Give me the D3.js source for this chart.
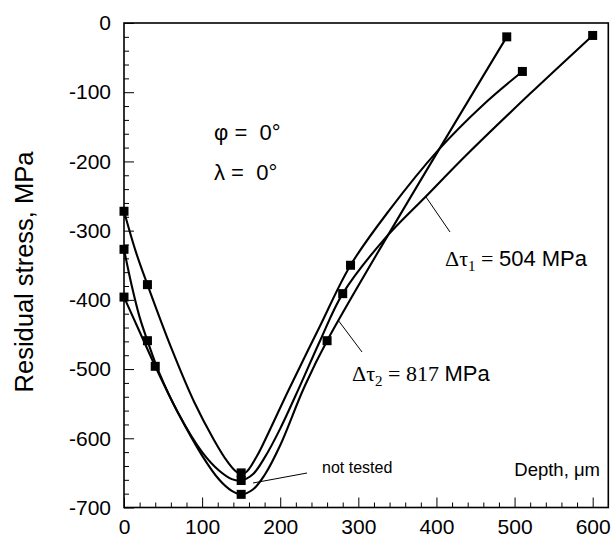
<!DOCTYPE html>
<html><head><meta charset="utf-8">
<script src="https://cdn.jsdelivr.net/npm/d3@7"></script>
<style>body{margin:0;background:#fff}svg{display:block}</style>
</head><body>
<script>
// ---- data ----
const xTicks = [0, 100, 200, 300, 400, 500, 600];
const yTicks = [0, -100, -200, -300, -400, -500, -600, -700];

// measured points (square markers)
const markDepthA = [0, 30, 150, 290, 510];
const markStressA = [-272, -378, -650, -350, -70];
const markDepthB = [0, 30, 150, 280, 600];
const markStressB = [-327, -459, -661, -391, -18];
const markDepthC = [0, 40, 150, 260, 490];
const markStressC = [-396, -496, -681, -459, -20];

// fitted curves
const fitDepthA = [0, 15, 30, 60, 90, 115, 132, 145, 155, 170, 185, 210, 250, 290, 340, 402, 460, 510];
const fitStressA = [-272, -330, -378, -468, -548, -602, -633, -649, -650, -626, -592, -532, -440, -350, -270, -184, -118, -70];
const fitDepthB = [0, 10, 20, 30, 45, 70, 100, 122, 138, 150, 165, 180, 200, 225, 251, 280, 332, 387, 439, 520, 600];
const fitStressB = [-327, -380, -425, -459, -505, -565, -620, -647, -659, -661, -652, -628, -586, -525, -459, -391, -314, -250, -190, -102, -18];
const fitDepthC = [0, 20, 40, 70, 100, 122, 138, 150, 165, 180, 200, 230, 260, 490];
const fitStressC = [-396, -446, -496, -565, -625, -660, -676, -681, -674, -653, -610, -528, -459, -20];

const marks = [[markDepthA, markStressA], [markDepthB, markStressB], [markDepthC, markStressC]];
const fits = [[fitDepthA, fitStressA], [fitDepthB, fitStressB], [fitDepthC, fitStressC]];

const W = 611, H = 540;
const L = 124, R = 608.3, T = 23, B = 507.5;
const svg = d3.select("body").append("svg").attr("width", W).attr("height", H);
const x = d3.scaleLinear().domain([0, 620]).range([L, R]);
const y = d3.scaleLinear().domain([-700, 0]).range([B, T]);
const sans = "Arial, 'Liberation Sans', Helvetica, sans-serif";
const serif = "'Times New Roman', 'Liberation Serif', serif";

// frame
svg.append("rect").attr("x", L).attr("y", T).attr("width", R - L).attr("height", B - T)
  .attr("fill", "none").attr("stroke", "#000").attr("stroke-width", 1.6);

// x axis ticks (inward)
const gx = svg.append("g").attr("transform", `translate(0,${B})`)
  .call(d3.axisBottom(x).tickValues(d3.range(0, 620, 20)).tickSize(-5).tickFormat(""));
gx.select(".domain").remove();
gx.selectAll(".tick line").attr("stroke", "#000").attr("stroke-width", 1)
  .filter(d => d % 100 === 0).attr("y2", -10);
const gxl = svg.append("g").attr("transform", `translate(0,${B})`)
  .call(d3.axisBottom(x).tickValues(xTicks).tickSize(0).tickPadding(12).tickFormat(d => String(d)));
gxl.select(".domain").remove();
gxl.selectAll("text").attr("font-family", sans).attr("font-size", 21).attr("fill", "#000");

// y axis ticks (inward)
const gy = svg.append("g").attr("transform", `translate(${L},0)`)
  .call(d3.axisLeft(y).tickValues(d3.range(-700, 1, 20)).tickSize(-5).tickFormat(""));
gy.select(".domain").remove();
gy.selectAll(".tick line").attr("stroke", "#000").attr("stroke-width", 1)
  .filter(d => d % 100 === 0).attr("x2", 10);
const gyl = svg.append("g").attr("transform", `translate(${L},0)`)
  .call(d3.axisLeft(y).tickValues(yTicks).tickSize(0).tickPadding(13).tickFormat(d => String(d)));
gyl.select(".domain").remove();
gyl.selectAll("text").attr("font-family", sans).attr("font-size", 21).attr("fill", "#000");

// y title
svg.append("text").attr("transform", "translate(33,272) rotate(-90)")
  .attr("text-anchor", "middle").attr("font-family", sans).attr("font-size", 25.5)
  .text("Residual stress, MPa");

// curves
const line = d3.line().x(d => x(d[0])).y(d => y(d[1])).curve(d3.curveCatmullRom.alpha(0.5));
fits.forEach(([dx, sy]) => {
  const pts = dx.map((v, i) => [v, sy[i]]);
  svg.append("path").attr("d", line(pts)).attr("fill", "none")
    .attr("stroke", "#000").attr("stroke-width", 2.1);
});
marks.forEach(([dx, sy]) => {
  const pts = dx.map((v, i) => [v, sy[i]]);
  svg.selectAll(null).data(pts).enter().append("rect")
    .attr("x", d => x(d[0]) - 4.5).attr("y", d => y(d[1]) - 4.5)
    .attr("width", 9).attr("height", 9).attr("fill", "#000");
});

// annotations
const ann = svg.append("g").attr("fill", "#000");
ann.append("text").attr("x", 214).attr("y", 140).attr("font-family", sans).attr("font-size", 22)
  .attr("xml:space", "preserve").text("φ =  0°");
ann.append("text").attr("x", 214).attr("y", 180).attr("font-family", sans).attr("font-size", 22)
  .attr("xml:space", "preserve").text("λ =  0°");
ann.append("text").attr("x", 600).attr("y", 476).attr("text-anchor", "end")
  .attr("font-family", sans).attr("font-size", 18.5).text("Depth, μm");
ann.append("text").attr("x", 322).attr("y", 473).attr("font-family", sans).attr("font-size", 16)
  .text("not tested");

const t1 = ann.append("text").attr("x", 445).attr("y", 266).attr("font-size", 22);
t1.append("tspan").attr("font-family", serif).text("Δτ");
t1.append("tspan").attr("font-family", serif).attr("font-size", 15).attr("dy", 5).text("1");
t1.append("tspan").attr("font-family", serif).attr("dy", -5).text(" = ");
t1.append("tspan").attr("font-family", sans).text("504 MPa");

const t2 = ann.append("text").attr("x", 352).attr("y", 381).attr("font-size", 22);
t2.append("tspan").attr("font-family", serif).text("Δτ");
t2.append("tspan").attr("font-family", serif).attr("font-size", 15).attr("dy", 5).text("2");
t2.append("tspan").attr("font-family", serif).attr("dy", -5).text(" = 817 ");
t2.append("tspan").attr("font-family", sans).text("MPa");

// pointer lines
const ptr = [[253, 483, 307, 473], [426, 197, 450, 232], [338, 320, 362, 352]];
svg.selectAll(null).data(ptr).enter().append("line")
  .attr("x1", d => d[0]).attr("y1", d => d[1]).attr("x2", d => d[2]).attr("y2", d => d[3])
  .attr("stroke", "#000").attr("stroke-width", 1);
</script>
</body></html>
